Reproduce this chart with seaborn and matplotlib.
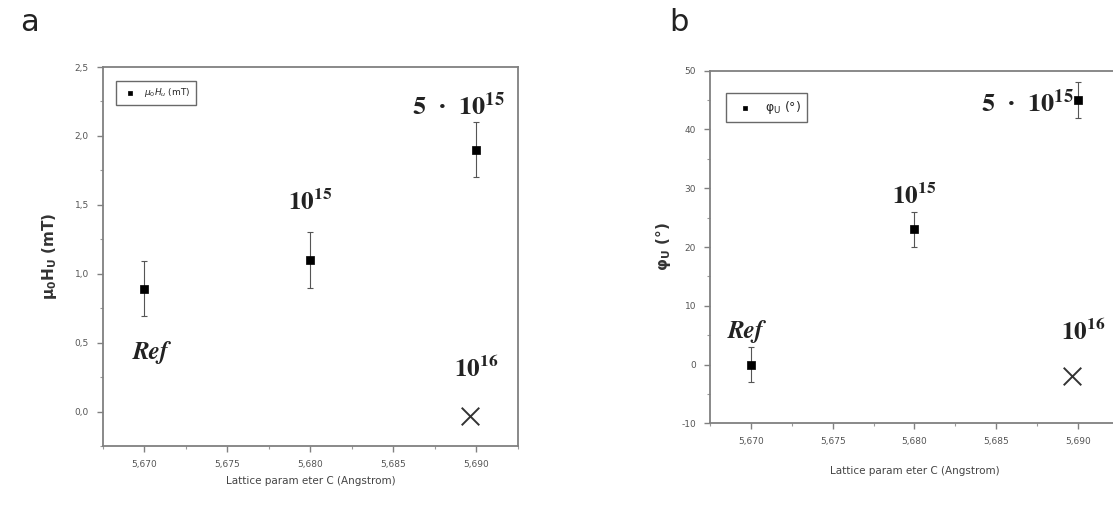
import numpy as np
import pandas as pd
import matplotlib
matplotlib.use("Agg")
import matplotlib.pyplot as plt
from matplotlib.ticker import FuncFormatter, MultipleLocator
import seaborn as sns

# données
lattice_c = [5.670, 5.680, 5.690]
labels = ["Ref", "10^15", "5*10^15"]
mu0_hu = [0.89, 1.10, 1.90]
mu0_hu_err = [0.20, 0.20, 0.20]
phi_u = [0.0, 23.0, 45.0]
phi_u_err = [3.0, 3.0, 3.0]
# échantillon 10^16 (croix)
c_1e16 = [5.6896]
mu0_hu_1e16 = [-0.03]
phi_u_1e16 = [-2.0]

df = pd.DataFrame({"c": lattice_c, "hu": mu0_hu, "hu_err": mu0_hu_err,
                   "phi": phi_u, "phi_err": phi_u_err, "label": labels})

sns.set_style("white")
plt.rcParams["font.family"] = ["DejaVu Sans"]
plt.rcParams["mathtext.fontset"] = "stix"

fig = plt.figure(figsize=(11.13, 5.07), dpi=100)
ax1 = fig.add_axes([0.0923, 0.1203, 0.3731, 0.7475])
ax2 = fig.add_axes([0.6379, 0.1647, 0.3675, 0.696])

comma = FuncFormatter(lambda v, p: f"{v:.3f}".replace(".", ","))

def style_axes(ax, yfmt, xpad):
    for s in ax.spines.values():
        s.set_color("#808080")
        s.set_linewidth(1.3)
    ax.set_xlim(5.6675, 5.6925)
    ax.xaxis.set_major_locator(MultipleLocator(0.005))
    ax.xaxis.set_minor_locator(MultipleLocator(0.0025))
    ax.xaxis.set_major_formatter(comma)
    ax.yaxis.set_major_formatter(FuncFormatter(yfmt))
    ax.tick_params(which="major", direction="out", length=4, width=1,
                   color="#808080", labelsize=6.5, labelcolor="#555555",
                   bottom=True, left=True, pad=6)
    ax.tick_params(which="minor", direction="out", length=2.5, width=0.8,
                   color="#999999", bottom=True, left=True)
    ax.set_xlabel("Lattice param eter C (Angstrom)", fontsize=7.5,
                  color="#444444", labelpad=xpad)

ann_kw = dict(fontsize=18, fontweight="bold", color="#222222", ha="center",
              va="center", family="STIXGeneral")
ref_kw = dict(ann_kw, style="italic")

# panneau a
ax1.errorbar(df["c"], df["hu"], yerr=df["hu_err"], fmt="none", ecolor="#555555",
             elinewidth=0.8, capsize=2.5, capthick=0.8)
sns.scatterplot(data=df, x="c", y="hu", marker="s", s=40, color="black",
                edgecolor="black", ax=ax1, label=r"$\mu_0H_u$ (mT)", zorder=3)
sns.scatterplot(x=c_1e16, y=mu0_hu_1e16, marker="x", s=160, color="#333333",
                linewidth=1.4, ax=ax1, zorder=3)
ax1.set_ylim(-0.25, 2.5)
ax1.yaxis.set_major_locator(MultipleLocator(0.5))
ax1.yaxis.set_minor_locator(MultipleLocator(0.25))
style_axes(ax1, lambda v, p: f"{v:.1f}".replace(".", ","), 5)
ax1.set_ylabel(r"$\mathbf{\mu_0H_U}$ (mT)", fontsize=11, fontweight="bold",
               color="#333333", labelpad=11, math_fontfamily="dejavusans")
ax1.text(5.6704, 0.43, "Ref", **ref_kw)
ax1.text(5.6800, 1.52, r"$\mathbf{10^{15}}$", **ann_kw)
ax1.text(5.6889, 2.22, r"5  ·  $\mathbf{10^{15}}$", **dict(ann_kw, fontsize=19))
ax1.text(5.6900, 0.31, r"$\mathbf{10^{16}}$", **ann_kw)
leg1 = ax1.legend(loc="upper left", bbox_to_anchor=(0.02, 0.975), fontsize=6.5,
                  frameon=True, fancybox=False, edgecolor="#444444",
                  handletextpad=0.6, borderpad=0.6, markerscale=0.5)
leg1.get_frame().set_linewidth(1.0)
for t in leg1.get_texts():
    t.set_math_fontfamily("dejavusans")

# panneau b
ax2.errorbar(df["c"], df["phi"], yerr=df["phi_err"], fmt="none", ecolor="#555555",
             elinewidth=0.8, capsize=2.5, capthick=0.8)
sns.scatterplot(data=df, x="c", y="phi", marker="s", s=40, color="black",
                edgecolor="black", ax=ax2, label=r"$\mathrm{\varphi_U}$ (°)", zorder=3)
sns.scatterplot(x=c_1e16, y=phi_u_1e16, marker="x", s=160, color="#333333",
                linewidth=1.4, ax=ax2, zorder=3)
ax2.set_ylim(-10, 50)
ax2.yaxis.set_major_locator(MultipleLocator(10))
ax2.yaxis.set_minor_locator(MultipleLocator(5))
style_axes(ax2, lambda v, p: f"{v:.0f}", 14)
ax2.set_ylabel(r"$\mathbf{\varphi_U}$ (°)", fontsize=11, fontweight="bold",
               color="#333333", labelpad=6, math_fontfamily="dejavusans")
ax2.text(5.6697, 5.6, "Ref", **ref_kw)
ax2.text(5.6800, 28.6, r"$\mathbf{10^{15}}$", **ann_kw)
ax2.text(5.6869, 44.5, r"5  ·  $\mathbf{10^{15}}$", **dict(ann_kw, fontsize=19))
ax2.text(5.6903, 5.5, r"$\mathbf{10^{16}}$", **ann_kw)
leg2 = ax2.legend(loc="upper left", bbox_to_anchor=(0.025, 0.955), fontsize=9,
                  frameon=True, fancybox=False, edgecolor="#444444",
                  handletextpad=0.6, borderpad=0.5, markerscale=0.5)
leg2.get_frame().set_linewidth(1.0)
for t in leg2.get_texts():
    t.set_math_fontfamily("dejavusans")

fig.text(0.018, 0.955, "a", fontsize=22, color="#222222", va="center")
fig.text(0.601, 0.955, "b", fontsize=22, color="#222222", va="center")

fig.savefig("out.png", dpi=100)
